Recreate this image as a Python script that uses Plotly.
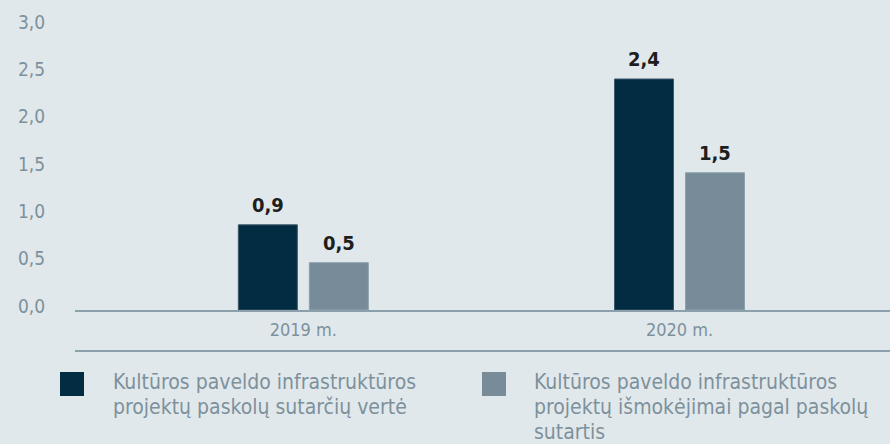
import plotly.graph_objects as go

categories = ["2019 m.", "2020 m."]
series_lines = [
    ["Kultūros paveldo infrastruktūros", "projektų paskolų sutarčių vertė"],
    ["Kultūros paveldo infrastruktūros", "projektų išmokėjimai pagal paskolų", "sutartis"],
]
contracts_value = [0.90, 2.44]
payments_value = [0.50, 1.45]
contracts_labels = ["0,9", "2,4"]
payments_labels = ["0,5", "1,5"]
y_ticks = [0.0, 0.5, 1.0, 1.5, 2.0, 2.5, 3.0]

FONT = "DejaVu Sans Condensed, Liberation Sans Narrow, DejaVu Sans, sans-serif"
BG = "#e1e8eb"
DARK = "#012c42"
GREY = "#778c98"
TXT = "#7d919c"
LINE = "#8ca0ab"
LABEL = "#1e1e1e"

W, H = 890, 444
L, R, T, B = 75, 0, 26, 134
pw, ph = W - L - R, H - T - B
SLOT_PX = 71  # spacing between bar centres inside a group

def px_x(x):
    return (x - L) / pw

def px_y(y):
    return (H - B - y) / ph

fig = go.Figure()
fig.add_trace(go.Bar(
    x=categories, y=contracts_value, name=" ".join(series_lines[0]),
    marker=dict(color=DARK, line=dict(color="#3d5a6a", width=1)),
))
fig.add_trace(go.Bar(
    x=categories, y=payments_value, name=" ".join(series_lines[1]),
    marker=dict(color=GREY, line=dict(color="#8fa2ad", width=1)),
))

# value labels above bars
for vals, labels, shift in ((contracts_value, contracts_labels, -SLOT_PX / 2),
                            (payments_value, payments_labels, SLOT_PX / 2)):
    for c, v, t in zip(categories, vals, labels):
        fig.add_annotation(x=c, y=v, text=f"<b>{t}</b>", showarrow=False,
                           xanchor="center", yanchor="bottom",
                           xshift=shift, yshift=6,
                           font=dict(family=FONT, size=20, color=LABEL))

fig.update_layout(
    width=W, height=H,
    margin=dict(l=L, r=R, t=T, b=B),
    paper_bgcolor=BG, plot_bgcolor=BG,
    barmode="group", bargap=0.6225, bargroupgap=0.169,
    separators=", ",
    showlegend=False,
    font=dict(family=FONT, color=TXT, size=17),
    xaxis=dict(
        range=[-0.607, 1.5596], showgrid=False, zeroline=False,
        showline=True, linecolor=LINE, linewidth=2,
        ticks="outside", ticklen=2, tickcolor="rgba(0,0,0,0)",
        tickfont=dict(family=FONT, size=18, color=TXT),
        fixedrange=True,
    ),
    yaxis=dict(
        range=[0, 3], tickvals=y_ticks, tickformat=".1f",
        showgrid=False, zeroline=False, showline=False,
        ticks="outside", ticklen=25, tickcolor="rgba(0,0,0,0)",
        ticklabelshift=-4,
        tickfont=dict(family=FONT, size=19, color=TXT),
        fixedrange=True,
    ),
)

# separator line under the category labels
fig.add_shape(type="line", xref="paper", yref="paper",
              x0=0, x1=1, y0=px_y(351), y1=px_y(351),
              line=dict(color=LINE, width=2))

# custom legend: square + one annotation per text line
legend_items = [
    (60, 112, DARK, series_lines[0]),
    (482, 533, GREY, series_lines[1]),
]
LINE_STEP = 25
FIRST_MID = 382
for sx, tx, col, lines in legend_items:
    fig.add_shape(type="rect", xref="paper", yref="paper",
                  x0=px_x(sx), x1=px_x(sx + 24), y0=px_y(372), y1=px_y(396),
                  fillcolor=col, line=dict(width=0))
    for i, line in enumerate(lines):
        fig.add_annotation(xref="paper", yref="paper", x=px_x(tx),
                           y=px_y(FIRST_MID + i * LINE_STEP),
                           xanchor="left", yanchor="middle", align="left",
                           showarrow=False, text=line, borderpad=0,
                           font=dict(family=FONT, size=21, color=TXT))

fig.write_html("out.html", config={"displayModeBar": False})

with open("out.html", encoding="utf-8") as f:
    html = f.read()
html = html.replace("<head>", "<head><style>html,body{margin:0;padding:0;overflow:hidden;}</style>", 1)
with open("out.html", "w", encoding="utf-8") as f:
    f.write(html)
